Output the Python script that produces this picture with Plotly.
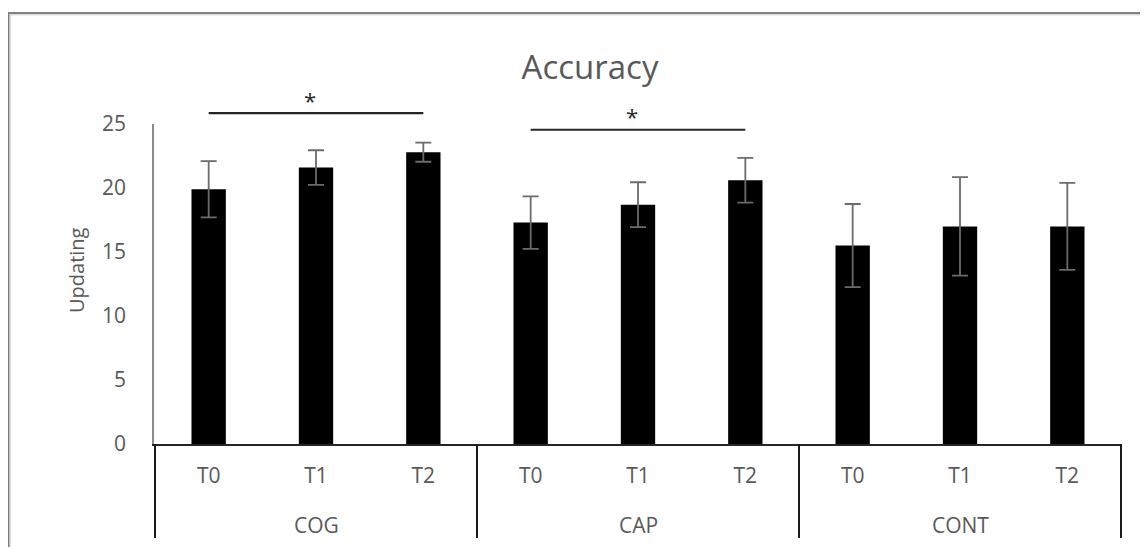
import plotly.graph_objects as go

# ---- data ----
groups = ["COG", "CAP", "CONT"]
times = ["T0", "T1", "T2"]
means = [19.9, 21.6, 22.8, 17.3, 18.7, 20.6, 15.5, 17.0, 17.0]
errors = [2.2, 1.35, 0.75, 2.05, 1.75, 1.75, 3.25, 3.85, 3.4]
sig_pairs = [(0, 2), (3, 5)]          # bar index pairs with significance bracket
sig_heights = [25.85, 24.55]          # bracket heights in data units
sig_labels = ["*", "*"]
title_text = "Accuracy"
y_title = "Updating"
y_ticks = [0, 5, 10, 15, 20, 25]
y_max = 25

cats = [f"{g} {t}" for g in groups for t in times]
tick_text = [t for g in groups for t in times]

# the page body has an 8px margin; figure is laid out in page pixels minus that
OFF = 8
W, H = 1148 - OFF, 547 - OFF
plot_left, plot_right, plot_top, plot_bottom = 154, 1122, 124, 444   # page px
L, R = plot_left - OFF, (1148) - plot_right
T, B = plot_top - OFF, 547 - plot_bottom
pw, ph = W - L - R, H - T - B


def px_x(px):      # page px -> paper x
    return (px - plot_left) / pw


def px_y(py):      # page px -> paper y
    return (plot_bottom - py) / ph


GRAY = "#595959"
FONT = "Open Sans"

fig = go.Figure()
fig.add_trace(go.Bar(
    x=cats, y=means,
    marker=dict(color="#000000", line=dict(width=0)),
    error_y=dict(type="data", array=errors, visible=True,
                 color="#6b6b6b", thickness=1.8, width=8),
    showlegend=False,
))

shapes = []
annotations = []

# significance brackets
for (a, b), yh, lab in zip(sig_pairs, sig_heights, sig_labels):
    ypos = yh / y_max
    shapes.append(dict(type="line", xref="x", yref="paper",
                       x0=cats[a], x1=cats[b], y0=ypos, y1=ypos,
                       line=dict(color="#262626", width=2.2)))
    mid = cats[(a + b) // 2]
    annotations.append(dict(x=mid, y=ypos, xref="x", yref="paper",
                            text=lab, showarrow=False, xshift=-6,
                            yanchor="bottom", yshift=-3.5,
                            font=dict(family=FONT, size=22, color="#262626")))

# group dividers and group labels
n_t = len(times)
for gi, g in enumerate(groups):
    annotations.append(dict(x=cats[gi * n_t + n_t // 2], y=px_y(525), xref="x", yref="paper",
                            text=g, showarrow=False, yanchor="middle",
                            font=dict(family=FONT, size=21, color=GRAY)))
for bi in range(len(groups) + 1):
    xv = bi * n_t - 0.5
    shapes.append(dict(type="line", xref="x", yref="paper",
                       x0=xv, x1=xv, y0=0, y1=px_y(538),
                       line=dict(color="#1a1a1a", width=2)))

# y title
annotations.append(dict(x=px_x(76), y=px_y(270), xref="paper", yref="paper",
                        text=y_title, textangle=-90, showarrow=False,
                        xanchor="center", yanchor="middle",
                        font=dict(family=FONT, size=20, color=GRAY)))

# outer chart frame (top and left edges visible)
shapes.append(dict(type="line", xref="paper", yref="paper",
                   x0=px_x(9), x1=px_x(1160), y0=px_y(14.5), y1=px_y(14.5),
                   line=dict(color="#dcdcdc", width=2)))
shapes.append(dict(type="line", xref="paper", yref="paper",
                   x0=px_x(10), x1=px_x(10), y0=px_y(14), y1=px_y(560),
                   line=dict(color="#dcdcdc", width=2)))
shapes.append(dict(type="line", xref="paper", yref="paper",
                   x0=px_x(8), x1=px_x(1160), y0=px_y(13), y1=px_y(13),
                   line=dict(color="#5a5a5a", width=1.5)))
shapes.append(dict(type="line", xref="paper", yref="paper",
                   x0=px_x(8.5), x1=px_x(8.5), y0=px_y(13), y1=px_y(560),
                   line=dict(color="#7a7a7a", width=1.5)))

fig.update_layout(
    width=W, height=H,
    margin=dict(l=L, r=R, t=T, b=B, autoexpand=False),
    paper_bgcolor="white", plot_bgcolor="white",
    bargap=0.68,
    title=dict(text=title_text, x=(590 - OFF) / W, xanchor="center",
               y=1 - (67 - OFF) / H, yanchor="middle",
               font=dict(family=FONT, size=33, color=GRAY)),
    xaxis=dict(type="category", tickmode="array", tickvals=cats, ticktext=tick_text,
               showline=True, linecolor="#262626", linewidth=1.8,
               showgrid=False, zeroline=False, ticks="",
               ticklabelstandoff=12,
               tickfont=dict(family=FONT, size=21, color=GRAY)),
    yaxis=dict(range=[0, y_max], tickvals=y_ticks, showline=True,
               linecolor="#8a8a8a", linewidth=1.8,
               showgrid=False, zeroline=False, ticks="",
               ticklabelstandoff=22,
               tickfont=dict(family=FONT, size=21, color=GRAY)),
    shapes=shapes,
    annotations=annotations,
)

fig.write_html("out.html")
